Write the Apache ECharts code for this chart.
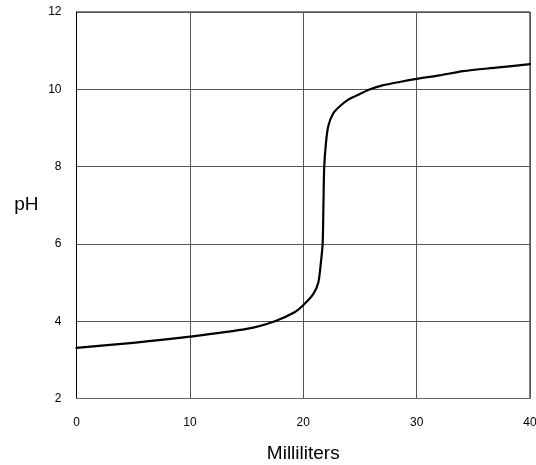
<!DOCTYPE html>
<html>
<head>
<meta charset="utf-8">
<script src="https://cdn.jsdelivr.net/npm/echarts@6/dist/echarts.min.js"></script>
<style>
html,body{margin:0;padding:0;background:#fff;}
#chart{width:536px;height:465px;}
</style>
</head>
<body>
<div id="chart"></div>
<script>
const milliliters = [0, 5, 10, 15, 17.5, 19.27, 19.95, 20.88, 21.33, 21.55, 21.71, 21.78, 21.85, 22.0, 22.2, 22.65, 23.3, 24, 25, 25.9, 27, 28.5, 30, 32, 34.1, 37, 40];
const pH = [3.31, 3.44, 3.60, 3.80, 4.00, 4.24, 4.40, 4.70, 5.0, 5.5, 6.0, 7.0, 8.0, 8.6, 9.04, 9.38, 9.58, 9.74, 9.88, 10.0, 10.1, 10.19, 10.27, 10.36, 10.47, 10.56, 10.65];
const xTicks = [0, 10, 20, 30, 40];
const yTicks = [2, 4, 6, 8, 10, 12];

const chart = echarts.init(document.getElementById('chart'), null, {renderer: 'canvas'});
const font = 'Liberation Sans';
chart.setOption({
  animation: false,
  backgroundColor: '#fff',
  grid: {left: 76.5, right: 6, top: 12, bottom: 66.5, show: true, borderColor: '#000', borderWidth: 1, containLabel: false, outerBoundsMode: 'none'},
  xAxis: {
    type: 'value', min: xTicks[0], max: xTicks[xTicks.length - 1], interval: 10,
    name: 'Milliliters', nameLocation: 'middle', nameGap: 46,
    nameTextStyle: {fontFamily: font, fontSize: 19, color: '#000'},
    axisLine: {show: true, lineStyle: {color: '#666', width: 1}},
    axisTick: {show: false},
    axisLabel: {fontFamily: font, fontSize: 12, color: '#000', margin: 18},
    splitLine: {show: true, lineStyle: {color: '#555', width: 1}}
  },
  yAxis: {
    type: 'value', min: yTicks[0], max: yTicks[yTicks.length - 1], interval: 2,
    name: 'pH', nameLocation: 'middle', nameRotate: 0, nameGap: 38,
    nameTextStyle: {fontFamily: font, fontSize: 19, color: '#000'},
    axisLine: {show: true, lineStyle: {color: '#000', width: 1}},
    axisTick: {show: false},
    axisLabel: {fontFamily: font, fontSize: 12, color: '#000', margin: 15},
    splitLine: {show: true, lineStyle: {color: '#555', width: 1}}
  },
  series: [{
    type: 'line',
    data: milliliters.map((m, i) => [m, pH[i]]),
    showSymbol: false,
    smooth: 0.25,
    lineStyle: {color: '#000', width: 2.2, join: 'round', cap: 'round'}
  }]
});
</script>
</body>
</html>
